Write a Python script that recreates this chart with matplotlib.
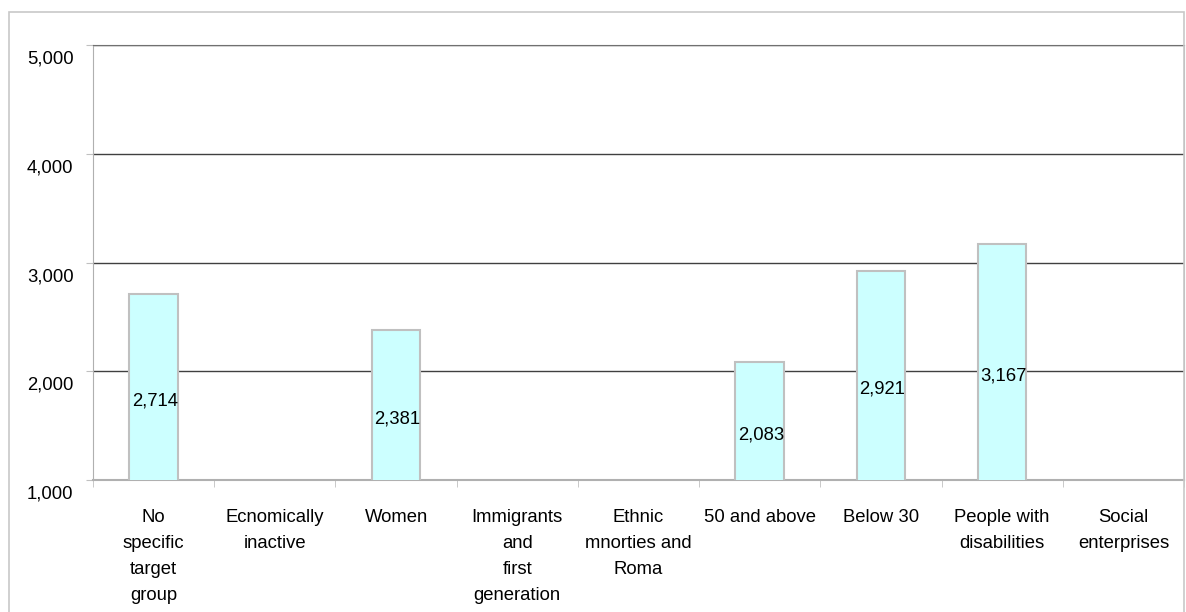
import matplotlib.pyplot as plt
import matplotlib.transforms as mtransforms
from matplotlib.patches import Rectangle
import numpy as np

plt.rcParams['font.family'] = ['Liberation Sans', 'DejaVu Sans']

categories = ["No\nspecific\ntarget\ngroup", "Ecnomically\ninactive", "Women",
              "Immigrants\nand\nfirst\ngeneration", "Ethnic\nmnorties and\nRoma",
              "50 and above", "Below 30", "People with\ndisabilities",
              "Social\nenterprises"]
values = [2714, np.nan, 2381, np.nan, np.nan, 2083, 2921, 3167, np.nan]
y_ticks = [1000, 2000, 3000, 4000, 5000]

fig = plt.figure(figsize=(11.86, 6.12), dpi=100)
# outer chart frame
fig.patches.append(Rectangle((9 / 1186, -0.05), 1175 / 1186, 1.05 - 12 / 612,
                             transform=fig.transFigure, fill=False,
                             edgecolor='#c8c8c8', linewidth=1.2))
ax = fig.add_axes([93 / 1186, 1 - 480 / 612, 1091 / 1186, 435 / 612])

x = np.arange(len(categories))
ax.set_xlim(-0.5, len(categories) - 0.5)
ax.set_ylim(1000, 5000)

for xi, v in zip(x, values):
    if np.isnan(v):
        continue
    ax.bar(xi, v, width=0.4, color='#ccffff', edgecolor='#c0c0c0',
           linewidth=1.5, zorder=3)
    base = ax.get_ylim()[0]
    ax.annotate(f"{v:,.0f}", xy=(xi, (base + v) / 2), xytext=(1, -10),
                textcoords='offset points', ha='center', va='center',
                fontsize=13.3, zorder=4)

ax.set_yticks(y_ticks)
ax.set_yticklabels([f"{t:,}" for t in y_ticks])
for t in y_ticks[1:]:
    ax.axhline(t, color='#404040', linewidth=1, zorder=1)

ax.set_xticks(x)
ax.set_xticklabels(categories, fontsize=13.3, linespacing=1.68)
ax.set_xticks(np.arange(len(categories) + 1) - 0.5, minor=True)
ax.tick_params(axis='x', which='major', length=0, pad=21)
ax.tick_params(axis='x', which='minor', length=5, color='#c0c0c0')
ax.tick_params(axis='y', length=5, color='#c0c0c0', pad=9, labelsize=13.3)

offset = mtransforms.ScaledTranslation(0, -4 / 72, fig.dpi_scale_trans)
for lab in ax.get_yticklabels():
    lab.set_verticalalignment('top')
    lab.set_transform(lab.get_transform() + offset)

for side in ['left', 'right', 'bottom']:
    ax.spines[side].set_color('#b0b0b0')
ax.spines['bottom'].set_linewidth(1.5)
ax.spines['top'].set_color('#707070')

fig.savefig('out.png', dpi=100)
